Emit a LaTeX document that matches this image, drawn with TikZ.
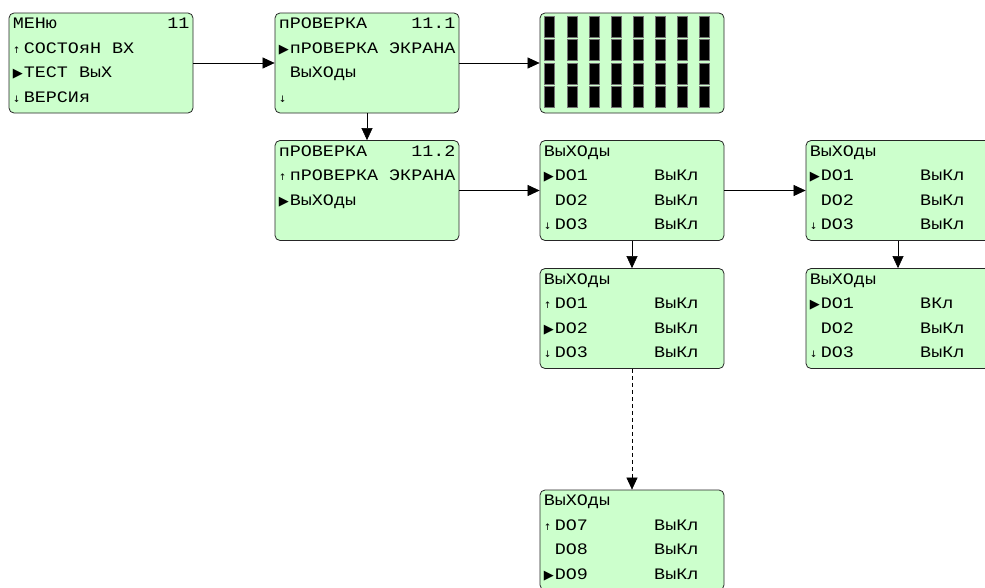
\documentclass[tikz,border=0pt]{standalone}
\usepackage{fontspec}
\setmonofont{Liberation Mono}[FakeStretch=1.15]
\newfontfamily\symfont{DejaVu Sans}
\usetikzlibrary{arrows.meta, positioning}
\definecolor{lcdgreen}{RGB}{204,255,204}
\tikzstyle{lcd} = [draw=black!85, fill=lcdgreen, thick, rounded corners=5pt, minimum width=184pt, minimum height=100pt, inner sep=0pt]
\tikzstyle{row} = [anchor=base west, inner sep=0pt, font=\ttfamily\fontsize{16}{16}\selectfont]
\tikzstyle{flow} = [-{Triangle[length=12pt,width=11pt]}, semithick]
\tikzstyle{pixel} = [fill=black, draw=black!55]

\newcommand{\mk}[1]{\makebox[11.04pt][l]{#1}}
\newcommand{\pnt}{\mk{\symfont\fontsize{13}{13}\selectfont ▶}}
\newcommand{\up}{\mk{\symfont\fontsize{9}{9}\selectfont ↑}}
\newcommand{\dn}{\mk{\symfont\fontsize{9}{9}\selectfont ↓}}
\newcommand{\nb}{\mk{}}
% one screen of the display: name, centre, four rows
\newcommand{\lcdscreen}[6]{%
  \node[lcd] (#1) at (#2) {};
  \node[row] (#1-a) at ([xshift=4pt,yshift=-16pt]#1.north west) {#3};
  \node[row] (#1-b) at ([xshift=4pt,yshift=-40.5pt]#1.north west) {#4};
  \node[row] (#1-c) at ([xshift=4pt,yshift=-65pt]#1.north west) {#5};
  \node[row] (#1-d) at ([xshift=4pt,yshift=-89.5pt]#1.north west) {#6};
}

\begin{document}
\begin{tikzpicture}[x=1pt, y=-1pt]
	\useasboundingbox (0,0) rectangle (985,587);

	\lcdscreen{menu}{101,63}{МЕНю~~~~~~~~~~11}{\up СОСТОяН ВХ}{\pnt ТЕСТ ВыХ}{\dn ВЕРСИя}
	\lcdscreen{testa}{367,63}{пРОВЕРКА~~~~11.1}{\pnt пРОВЕРКА ЭКРАНА}{\nb ВыХОды}{\dn}
	\node[lcd] (scr) at (632,63) {};
	\lcdscreen{testb}{367,190.5}{пРОВЕРКА~~~~11.2}{\up пРОВЕРКА ЭКРАНА}{\pnt ВыХОды}{}
	\lcdscreen{outa}{632,190.5}{ВыХОды}{\pnt DO1~~~~~~ВыКл}{\nb DO2~~~~~~ВыКл}{\dn DO3~~~~~~ВыКл}
	\lcdscreen{onea}{898,190.5}{ВыХОды}{\pnt DO1~~~~~~ВыКл}{\nb DO2~~~~~~ВыКл}{\dn DO3~~~~~~ВыКл}
	\lcdscreen{outb}{632,318.5}{ВыХОды}{\up DO1~~~~~~ВыКл}{\pnt DO2~~~~~~ВыКл}{\dn DO3~~~~~~ВыКл}
	\lcdscreen{oneb}{898,318.5}{ВыХОды}{\pnt DO1~~~~~~ВКл}{\nb DO2~~~~~~ВыКл}{\dn DO3~~~~~~ВыКл}
	\lcdscreen{outc}{632,540}{ВыХОды}{\up DO7~~~~~~ВыКл}{\nb DO8~~~~~~ВыКл}{\pnt DO9~~~~~~ВыКл}

	% screen test: all pixels on
	\foreach \c in {0,...,7}
		\foreach \r in {0,...,3}
			\draw[pixel] ([xshift={5pt+22.1pt*\c}, yshift={-3.7pt-23.3pt*\r}]scr.north west) rectangle ++(10,21);

	\draw[flow] (menu) -- (testa);
	\draw[flow] (testa) -- (scr);
	\draw[flow] (testa) -- (testb);
	\draw[flow] (testb) -- (outa);
	\draw[flow] (outa) -- (onea);
	\draw[flow] (outa) -- (outb);
	\draw[flow] (onea) -- (oneb);
	\draw[flow, dashed, dash pattern=on 4pt off 3pt] (outb) -- (outc);
\end{tikzpicture}
\end{document}
